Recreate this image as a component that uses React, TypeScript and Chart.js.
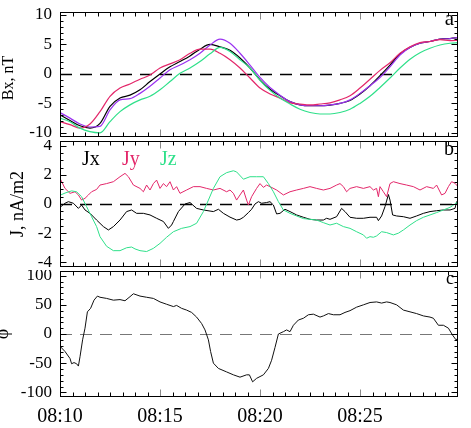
import React, { useEffect, useRef } from 'react';
import { Chart, registerables } from 'chart.js';

Chart.register(...registerables);

const FONT = "'Liberation Serif', 'Times New Roman', Times, serif";

// x axis: minutes after 08:10
const X_MIN = 0;
const X_MAX = 19.9;
const X_TICKS = [0, 5, 10, 15];
const X_LABELS = ['08:10', '08:15', '08:20', '08:25'];
const X_MINOR_STEP = 0.625;

// Panel a: Bx, nT
const BX_TICKS = [-10, -5, 0, 5, 10];
const BX_MINOR = 1;
const BX_RANGE = [-10.7, 10.5];
const T_A = [0, 0.5, 1, 1.5, 2, 2.5, 3, 3.5, 4, 4.5, 5, 5.5, 6, 6.5, 7, 7.5, 8, 8.5, 9, 9.5, 10, 10.5, 11, 11.5, 12, 12.5, 13, 13.5, 14, 14.5, 15, 15.5, 16, 16.5, 17, 17.5, 18, 18.5, 19, 19.5, 19.9];
const BX_BLACK = [-6.95, -7.9, -8.8, -9.2, -8.4, -5.5, -4.1, -3.6, -2.7, -1.3, 0, 1.2, 2.1, 3.05, 4.2, 5.0, 4.6, 4.0, 2.7, 1.0, -1.0, -2.6, -3.7, -4.7, -5.25, -5.4, -5.4, -5.3, -5.0, -4.5, -3.4, -2.0, -0.3, 1.5, 3.4, 4.5, 5.2, 5.5, 5.9, 6.0, 6.15];
const BX_PURPLE = [-6.55, -7.5, -8.5, -9.0, -8.9, -6.1, -4.4, -4.2, -3.3, -2.1, -0.7, 0.7, 1.5, 2.4, 3.5, 4.9, 5.9, 5.2, 3.5, 1.5, -0.6, -2.3, -3.6, -4.7, -5.25, -5.4, -5.4, -5.25, -5.0, -4.4, -3.3, -2.0, -0.6, 1.2, 3.2, 4.5, 5.2, 5.5, 5.9, 6.0, 6.2];
const BX_RED = [-8.1, -8.6, -9.2, -8.5, -6.4, -3.8, -2.4, -1.7, -0.9, -0.2, 1.0, 1.7, 2.4, 3.5, 4.2, 4.2, 3.5, 2.4, 1.0, -0.7, -2.4, -3.4, -4.1, -4.9, -5.1, -5.25, -5.1, -4.9, -4.4, -3.7, -2.4, -0.9, 0.6, 1.9, 3.5, 4.6, 5.3, 5.5, 5.8, 5.65, 5.7];
const BX_GREEN = [-7.5, -8.1, -9.2, -9.8, -10.0, -8.1, -6.4, -5.25, -4.4, -3.8, -2.7, -1.3, 0.1, 1.0, 2.1, 3.4, 4.5, 3.8, 2.4, 1.0, -1.1, -2.8, -4.1, -5.1, -6.0, -6.55, -6.8, -6.8, -6.55, -6.0, -5.0, -3.8, -2.3, -0.7, 1.0, 2.5, 3.6, 4.35, 4.9, 5.2, 5.3];

// Panel b: J, nA/m2
const J_TICKS = [-4, -2, 0, 2, 4];
const J_MINOR = 0.5;
const J_RANGE = [-4.32, 4.32];
const JX_T = [0, 0.25, 0.42, 0.67, 0.92, 1.08, 1.25, 1.5, 1.83, 2.17, 2.42, 2.67, 3.0, 3.33, 3.58, 3.83, 4.17, 4.5, 4.83, 5.17, 5.42, 5.58, 5.67, 5.92, 6.25, 6.5, 6.83, 7.17, 7.67, 7.92, 8.17, 8.5, 8.83, 9.0, 9.17, 9.42, 9.58, 9.75, 9.92, 10.08, 10.33, 10.5, 10.67, 10.83, 11.0, 11.25, 11.5, 11.83, 12.17, 12.5, 12.83, 13.17, 13.33, 13.5, 13.83, 14.08, 14.25, 14.5, 14.83, 15.17, 15.5, 15.83, 15.92, 16.08, 16.25, 16.42, 16.5, 16.63, 16.83, 17.17, 17.5, 17.83, 18.17, 18.5, 18.83, 19.17, 19.5, 19.75, 19.83, 19.9];
const JX_V = [-0.23, 0.05, 0.16, 0.05, -0.3, -0.07, -0.41, -0.64, -1.1, -1.55, -1.78, -1.55, -1.1, -0.52, -0.41, -0.64, -0.64, -0.75, -0.98, -1.2, -1.67, -1.44, -1.2, -0.52, 0, 0.1, -0.3, -0.41, -0.52, -0.36, -0.64, -0.9, -1.1, -1.05, -0.91, -0.59, -0.36, 0, 0.16, 0.05, 0.1, 0.16, -0.07, -0.68, -0.64, -0.36, -0.52, -0.75, -0.91, -1.05, -1.1, -1.1, -0.98, -1.05, -0.87, -0.3, -0.52, -0.91, -0.98, -0.98, -0.91, -0.91, -1.14, -0.82, -0.18, 0.65, 0.27, -0.75, -0.82, -0.87, -0.98, -0.82, -0.64, -0.52, -0.46, -0.41, -0.41, -0.3, 0.16, -0.07];
const JY_T = [0, 0.25, 0.5, 0.75, 0.92, 1.08, 1.25, 1.42, 1.58, 1.83, 2.0, 2.33, 2.67, 3.0, 3.25, 3.42, 3.67, 4.0, 4.17, 4.33, 4.5, 4.67, 4.83, 5.0, 5.17, 5.33, 5.5, 5.67, 5.83, 6.0, 6.33, 6.67, 7.0, 7.33, 7.67, 8.0, 8.33, 8.5, 8.67, 8.83, 9.0, 9.17, 9.33, 9.42, 9.58, 9.83, 10.0, 10.17, 10.33, 10.5, 10.83, 11.17, 11.5, 11.83, 12.17, 12.5, 12.83, 13.17, 13.5, 13.83, 14.0, 14.17, 14.33, 14.5, 14.83, 15.17, 15.5, 15.67, 15.83, 15.92, 16.0, 16.17, 16.33, 16.5, 16.67, 17.0, 17.33, 17.67, 18.0, 18.33, 18.67, 18.83, 19.08, 19.25, 19.42, 19.58, 19.75, 19.9];
const JY_V = [1.76, 1.07, 0.73, 0.84, 0.62, 0.27, 0.39, 0.62, 0.84, 1.0, 1.3, 1.4, 1.53, 1.87, 2.1, 1.87, 1.3, 1.07, 0.84, 1.3, 0.96, 1.4, 1.64, 1.07, 1.4, 1.19, 1.53, 0.96, 1.19, 0.73, 0.96, 1.19, 1.19, 1.07, 0.96, 1.07, 0.84, 0.96, 0.73, 0.27, 0.62, 0.96, 0.27, -0.07, 0.5, 1.07, 1.4, 1.14, 1.3, 1.19, 0.96, 0.62, 0.84, 0.96, 1.07, 1.19, 1.07, 0.96, 1.07, 1.3, 1.4, 1.19, 0.84, 1.07, 1.19, 1.07, 1.19, 0.96, 1.07, 0.5, 1.19, 0.84, 0.5, 1.4, 1.53, 1.4, 1.3, 1.19, 0.96, 1.19, 1.07, 1.3, 0.62, 0.73, 1.19, 1.53, 1.42, 1.19];
const JZ_T = [0, 0.25, 0.58, 0.83, 1.08, 1.33, 1.58, 1.83, 2.0, 2.33, 2.67, 3.0, 3.33, 3.58, 3.75, 4.0, 4.33, 4.67, 5.0, 5.33, 5.67, 6.08, 6.5, 6.83, 7.17, 7.42, 7.67, 8.0, 8.33, 8.67, 8.83, 9.17, 9.5, 9.83, 10.17, 10.42, 10.67, 10.92, 11.17, 11.5, 11.83, 12.17, 12.5, 12.83, 13.17, 13.5, 13.83, 14.17, 14.5, 14.83, 15.17, 15.33, 15.5, 15.67, 15.83, 16.08, 16.33, 16.67, 16.92, 17.17, 17.5, 17.83, 18.17, 18.5, 18.83, 19.17, 19.5, 19.75, 19.9];
const JZ_V = [0.6, 0.75, 0.9, 0.84, 0.5, -0.18, -0.87, -1.55, -2.24, -2.9, -3.2, -3.2, -3.0, -2.95, -3.08, -3.2, -3.26, -3.04, -2.7, -2.28, -1.9, -1.67, -1.55, -1.32, -0.52, 0.27, 1.07, 1.87, 2.15, 2.28, 2.2, 1.7, 1.87, 1.87, 1.87, 1.4, 0.84, 0.16, -0.41, -0.64, -0.82, -1.0, -1.05, -1.1, -1.28, -1.44, -1.32, -1.55, -1.67, -1.9, -2.12, -2.35, -2.24, -2.28, -2.19, -1.9, -1.96, -2.12, -2.0, -1.78, -1.44, -1.14, -0.91, -0.75, -0.59, -0.41, -0.23, 0, 0.16];

// Panel c: phi
const PHI_TICKS = [-100, -50, 0, 50, 100];
const PHI_MINOR = 10;
const PHI_RANGE = [-108, 108];
const PHI_T = [0, 0.25, 0.5, 0.58, 0.7, 0.83, 0.92, 1.0, 1.13, 1.25, 1.37, 1.53, 1.7, 1.87, 2.0, 2.33, 2.67, 3.0, 3.25, 3.5, 3.67, 4.0, 4.33, 4.67, 5.0, 5.33, 5.67, 5.83, 6.08, 6.33, 6.58, 6.83, 7.08, 7.25, 7.42, 7.53, 7.67, 7.92, 8.33, 8.67, 9.0, 9.33, 9.47, 9.63, 9.83, 10.17, 10.42, 10.58, 10.75, 10.92, 11.17, 11.33, 11.5, 11.67, 11.92, 12.17, 12.42, 12.67, 13.0, 13.17, 13.42, 13.67, 14.0, 14.25, 14.5, 14.83, 15.17, 15.5, 15.83, 16.08, 16.33, 16.5, 16.83, 17.17, 17.5, 17.83, 18.17, 18.5, 18.67, 18.92, 19.17, 19.42, 19.63, 19.8, 19.9];
const PHI_V = [-21, -30, -42, -51, -49, -51, -55, -39, -10, 10, 38, 44, 58, 65, 63, 61, 58, 59, 57, 64, 69, 65, 63, 61, 55, 51, 47, 49, 44, 41, 37, 29, 18, 7, -10, -30, -50, -59, -65, -70, -74, -70, -70, -82, -76, -70, -59, -45, -23, 0, 4, 7, 4, 15, 24, 27, 33, 34, 29, 31, 35, 33, 33, 37, 40, 46, 50, 54, 55, 53, 55, 54, 50, 41, 38, 35, 31, 29, 27, 15, 15, 10, -2, -10, -7];

const C_BLACK = '#000000';
const C_RED = '#e3276a';
const C_PURPLE = '#9a32f0';
const C_GREEN = '#2fe08a';

type Series = { t: number[]; v: number[]; color: string; width: number };
type PanelCfg = {
  series: Series[];
  smooth: boolean;
  ticks: number[];
  minor: number;
  range: number[];
  tickFont: number;
  showX: boolean;
  padTop: number;
  padBottom: number;
  zeroColor: string;
  zeroDash: number[];
  zeroWidth: number;
  letter: string;
  letterFont: number;
  letterY: number;
  title: string;
  titleFont: number;
  titleX: number;
  titleY: number;
  legend?: { text: string; color: string; x: number; y: number }[];
};

function panelPlugin(cfg: PanelCfg) {
  return {
    id: 'panelDeco',
    beforeDatasetsDraw(chart: any) {
      const { ctx, chartArea: a } = chart;
      const ys = chart.scales.y;
      const py = Math.round(ys.getPixelForValue(0)) + 0.5;
      ctx.save();
      ctx.strokeStyle = cfg.zeroColor;
      ctx.lineWidth = cfg.zeroWidth;
      ctx.setLineDash(cfg.zeroDash);
      ctx.beginPath();
      ctx.moveTo(a.left, py);
      ctx.lineTo(a.right, py);
      ctx.stroke();
      ctx.restore();
    },
    afterDraw(chart: any) {
      const { ctx, chartArea: a } = chart;
      const xs = chart.scales.x;
      const ys = chart.scales.y;
      const L = a.left + 0.5;
      const R = a.right - 0.5;
      const T = a.top + 0.5;
      const B = a.bottom - 0.5;
      ctx.save();
      ctx.lineWidth = 1;
      // y ticks, both sides, inward
      const lo = cfg.ticks[0];
      const hi = cfg.ticks[cfg.ticks.length - 1];
      const n = Math.round((hi - lo) / cfg.minor);
      ctx.strokeStyle = '#000';
      for (let i = 0; i <= n; i++) {
        const v = lo + i * cfg.minor;
        const major = cfg.ticks.some((t) => Math.abs(t - v) < 1e-9);
        const p = Math.round(ys.getPixelForValue(v)) + 0.5;
        const len = major ? 6 : 3;
        ctx.beginPath();
        ctx.moveTo(L, p);
        ctx.lineTo(L + len, p);
        ctx.moveTo(R, p);
        ctx.lineTo(R - len, p);
        ctx.stroke();
      }
      // x ticks, top and bottom, inward
      const m = Math.floor((X_MAX - X_MIN) / X_MINOR_STEP + 1e-9);
      for (let i = 0; i <= m; i++) {
        const v = X_MIN + i * X_MINOR_STEP;
        const major = X_TICKS.some((t) => Math.abs(t - v) < 1e-9);
        const p = Math.round(xs.getPixelForValue(v)) + 0.5;
        const len = major ? 7 : 4;
        ctx.strokeStyle = major ? '#8a8a8a' : '#000';
        ctx.beginPath();
        ctx.moveTo(p, T);
        ctx.lineTo(p, T + len);
        ctx.moveTo(p, B);
        ctx.lineTo(p, B - len);
        ctx.stroke();
      }
      // frame
      ctx.strokeStyle = '#000';
      ctx.strokeRect(L, T, R - L, B - T);
      // panel letter
      ctx.fillStyle = '#000';
      ctx.font = `${cfg.letterFont}px ${FONT}`;
      ctx.textAlign = 'right';
      ctx.textBaseline = 'alphabetic';
      ctx.fillText(cfg.letter, a.right - 4, cfg.letterY);
      // legend
      if (cfg.legend) {
        ctx.font = `20px ${FONT}`;
        ctx.textAlign = 'left';
        for (const item of cfg.legend) {
          ctx.fillStyle = item.color;
          ctx.fillText(item.text, item.x, item.y);
        }
      }
      // y title
      ctx.fillStyle = '#000';
      ctx.font = `${cfg.titleFont}px ${FONT}`;
      ctx.translate(cfg.titleX, cfg.titleY);
      ctx.rotate(-Math.PI / 2);
      ctx.textAlign = 'center';
      ctx.textBaseline = 'middle';
      ctx.fillText(cfg.title, 0, 0);
      ctx.restore();
    },
  };
}

function makeChart(canvas: HTMLCanvasElement, p: PanelCfg) {
  return new Chart(canvas, {
    type: 'line',
    data: {
      datasets: p.series.map((s) => ({
        data: s.t.map((t, i) => ({ x: t, y: s.v[i] })),
        borderColor: s.color,
        borderWidth: s.width,
        pointRadius: 0,
        fill: false,
        tension: p.smooth ? 0.4 : 0,
        cubicInterpolationMode: p.smooth ? 'monotone' : 'default',
      })),
    },
    options: {
      animation: false,
      responsive: false,
      devicePixelRatio: 1,
      events: [],
      layout: { padding: { left: 0, right: 13, top: p.padTop, bottom: p.padBottom } },
      plugins: { legend: { display: false }, tooltip: { enabled: false } },
      scales: {
        x: {
          type: 'linear',
          min: X_MIN,
          max: X_MAX,
          display: p.showX,
          afterBuildTicks: (s: any) => {
            s.ticks = X_TICKS.map((v) => ({ value: v }));
          },
          ticks: {
            autoSkip: false,
            maxRotation: 0,
            padding: 8,
            color: '#000',
            font: { family: FONT, size: 20 },
            callback: (v: any) => X_LABELS[X_TICKS.indexOf(Number(v))] ?? '',
          },
          grid: { display: false, drawTicks: false },
          border: { display: false },
          afterFit: (s: any) => {
            s.height = p.showX ? 31 : 0;
            s.paddingLeft = 0;
            s.paddingRight = 0;
          },
        },
        y: {
          type: 'linear',
          min: p.range[0],
          max: p.range[1],
          afterBuildTicks: (s: any) => {
            s.ticks = p.ticks.map((v) => ({ value: v }));
          },
          ticks: {
            autoSkip: false,
            padding: 8,
            color: '#000',
            font: { family: FONT, size: p.tickFont },
            callback: (v: any) => String(v),
          },
          grid: { display: false, drawTicks: false },
          border: { display: false },
          afterFit: (s: any) => {
            s.width = 60;
            s.paddingTop = 0;
            s.paddingBottom = 0;
          },
        },
      },
    } as any,
    plugins: [panelPlugin(p)],
  });
}

export default function App() {
  const aRef = useRef<HTMLCanvasElement>(null);
  const bRef = useRef<HTMLCanvasElement>(null);
  const cRef = useRef<HTMLCanvasElement>(null);

  useEffect(() => {
    const charts: Chart[] = [];
    charts.push(
      makeChart(aRef.current!, {
        series: [
          { t: T_A, v: BX_GREEN, color: C_GREEN, width: 1.2 },
          { t: T_A, v: BX_RED, color: C_RED, width: 1.2 },
          { t: T_A, v: BX_PURPLE, color: C_PURPLE, width: 1.2 },
          { t: T_A, v: BX_BLACK, color: C_BLACK, width: 1.2 },
        ],
        smooth: true,
        ticks: BX_TICKS,
        minor: BX_MINOR,
        range: BX_RANGE,
        tickFont: 17,
        showX: false,
        padTop: 12,
        padBottom: 3,
        zeroColor: '#000',
        zeroDash: [12, 8],
        zeroWidth: 1.3,
        letter: 'a',
        letterFont: 21,
        letterY: 25,
        title: 'Bx, nT',
        titleFont: 16,
        titleX: 9,
        titleY: 78,
      })
    );
    charts.push(
      makeChart(bRef.current!, {
        series: [
          { t: JZ_T, v: JZ_V, color: C_GREEN, width: 1 },
          { t: JY_T, v: JY_V, color: C_RED, width: 1 },
          { t: JX_T, v: JX_V, color: C_BLACK, width: 1 },
        ],
        smooth: false,
        ticks: J_TICKS,
        minor: J_MINOR,
        range: J_RANGE,
        tickFont: 17,
        showX: false,
        padTop: 1,
        padBottom: 3,
        zeroColor: '#000',
        zeroDash: [12, 8],
        zeroWidth: 1.3,
        letter: 'b',
        letterFont: 20,
        letterY: 15,
        title: 'J, nA/m2',
        titleFont: 18,
        titleX: 18,
        titleY: 64,
        legend: [
          { text: 'Jx', color: C_BLACK, x: 82, y: 25 },
          { text: 'Jy', color: C_RED, x: 122, y: 25 },
          { text: 'Jz', color: C_GREEN, x: 160, y: 25 },
        ],
      })
    );
    charts.push(
      makeChart(cRef.current!, {
        series: [{ t: PHI_T, v: PHI_V, color: '#111', width: 1 }],
        smooth: false,
        ticks: PHI_TICKS,
        minor: PHI_MINOR,
        range: PHI_RANGE,
        tickFont: 17,
        showX: true,
        padTop: 1,
        padBottom: 0,
        zeroColor: '#777',
        zeroDash: [12, 8],
        zeroWidth: 1,
        letter: 'c',
        letterFont: 18,
        letterY: 14,
        title: 'φ',
        titleFont: 18,
        titleX: 3,
        titleY: 64,
      })
    );
    return () => charts.forEach((c) => c.destroy());
  }, []);

  return (
    <div style={{ position: 'absolute', left: 0, top: 0, width: 471, height: 428, background: '#fff' }}>
      <canvas ref={aRef} width={471} height={140} style={{ position: 'absolute', left: 0, top: 0 }} />
      <canvas ref={bRef} width={471} height={130} style={{ position: 'absolute', left: 0, top: 140 }} />
      <canvas ref={cRef} width={471} height={158} style={{ position: 'absolute', left: 0, top: 270 }} />
    </div>
  );
}
